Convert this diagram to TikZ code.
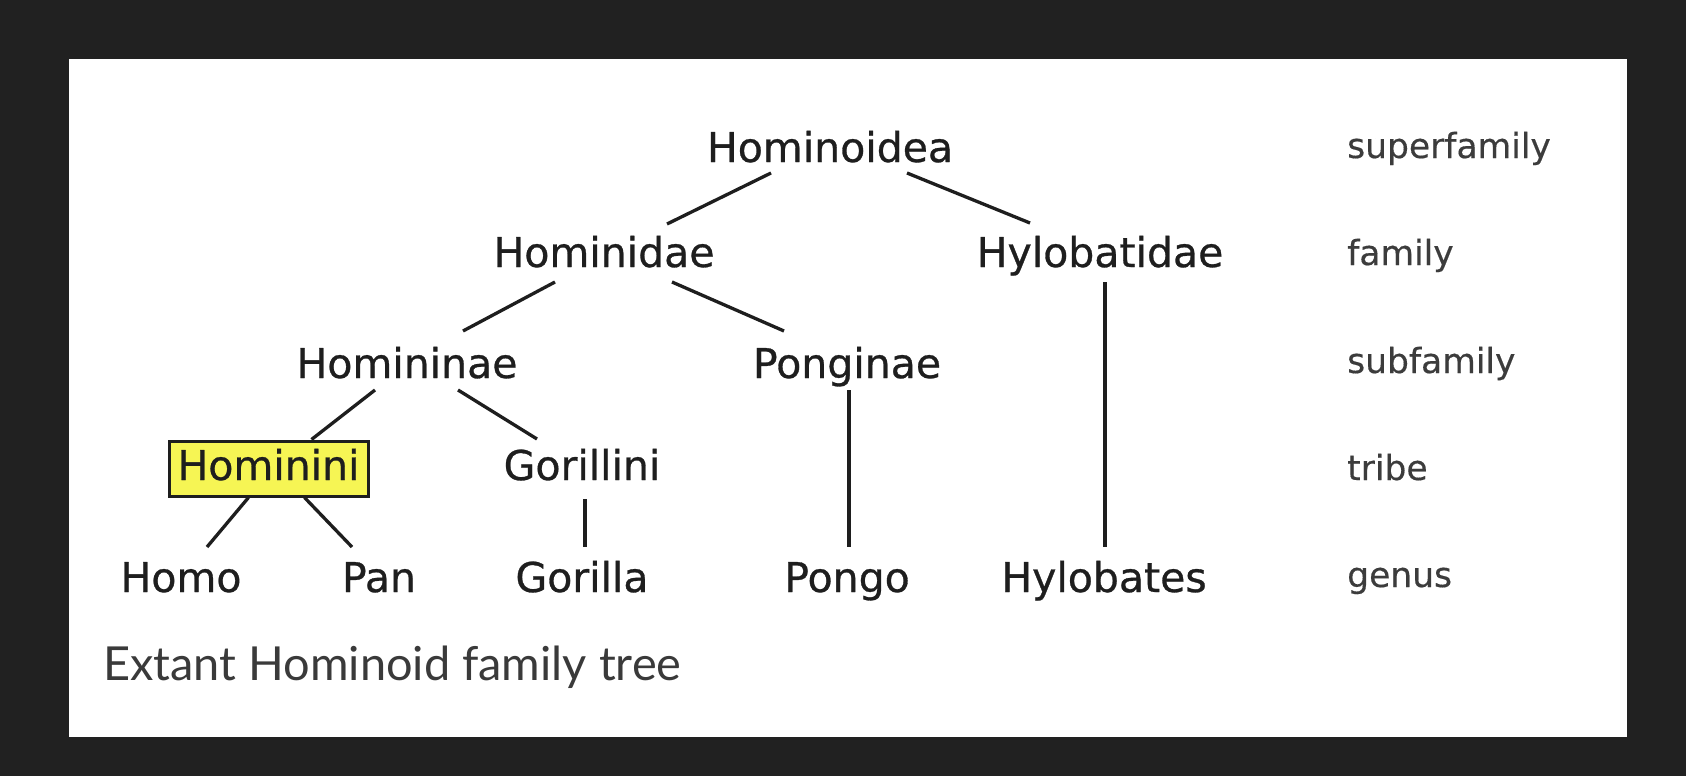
\documentclass[tikz,border=0pt]{standalone}
\usepackage{fontspec}
\usetikzlibrary{calc}
\newfontfamily\treefont[FakeBold=0.7]{DejaVu Sans}
\newfontfamily\rankfont[FakeBold=0.4]{DejaVu Sans}
\newfontfamily\capfont{Lato}
\definecolor{bgdark}{RGB}{33,33,33}
\definecolor{ink}{RGB}{30,30,30}
\definecolor{rankgray}{RGB}{60,60,60}
\definecolor{capgray}{RGB}{58,58,58}
\definecolor{hiyellow}{RGB}{246,245,84}
\tikzset{
  taxon/.style={anchor=base, inner sep=0pt, text=ink, font=\treefont\fontsize{41}{49}\selectfont},
  rank/.style={anchor=base west, inner sep=0pt, text=rankgray, font=\rankfont\fontsize{34.5}{41}\selectfont},
  hibox/.style={draw=ink, line width=3pt, fill=hiyellow, inner sep=0pt, minimum width=199pt, minimum height=55pt, text height=30pt, text depth=7pt, text=ink, font=\treefont\fontsize{41}{49}\selectfont},
  branch/.style={draw=ink, line width=3.3pt},
  captext/.style={anchor=base west, inner sep=0pt, text=capgray, font=\capfont\fontsize{46.9}{55}\selectfont}
}
\begin{document}
\begin{tikzpicture}[x=1pt,y=-1pt]
\fill[bgdark] (0,0) rectangle (1686,776);
\useasboundingbox (0,0) rectangle (1686,776);
\fill[white] (69,59) rectangle (1627,737);
% taxa
\node[taxon] (hominoidea) at (830,162) {Hominoidea};
\node[taxon] (hominidae) at (604,267) {Hominidae};
\node[taxon] (hylobatidae) at (1100,267) {Hylobatidae};
\node[taxon] (homininae) at (407,378) {Homininae};
\node[taxon] (ponginae) at (847,378) {Ponginae};
\node[hibox] (hominini) at (268.5,468.5) {Hominini};
\node[taxon] (gorillini) at (582,480) {Gorillini};
\node[taxon] (homo) at (181,592) {Homo};
\node[taxon] (pan) at (379,592) {Pan};
\node[taxon] (gorilla) at (582,592) {Gorilla};
\node[taxon] (pongo) at (847,592) {Pongo};
\node[taxon] (hylobates) at (1104,592) {Hylobates};
% ranks
\node[rank] (r1) at (1347,158) {superfamily};
\node[rank] (r2) at (1347,265) {family};
\node[rank] (r3) at (1347,373) {subfamily};
\node[rank] (r4) at (1347,480) {tribe};
\node[rank] (r5) at (1347,587) {genus};
% caption
\node[captext] (cap) at (103,680) {Extant Hominoid family tree};
% branches
\draw[branch] ($(hominoidea.base)+(-59,11)$) -- ($(hominidae.base)+(63,-43)$);
\draw[branch] ($(hominoidea.base)+(77,11)$) -- ($(hylobatidae.base)+(-70,-44)$);
\draw[branch] ($(hominidae.base)+(-49,15)$) -- ($(homininae.base)+(56,-47)$);
\draw[branch] ($(hominidae.base)+(68,15)$) -- ($(ponginae.base)+(-63,-47)$);
\draw[branch] ($(hylobatidae.base)+(5,15)$) -- ($(hylobates.base)+(1,-45)$);
\draw[branch] ($(homininae.base)+(-32,12)$) -- ($(hominini.north)+(43,0)$);
\draw[branch] ($(homininae.base)+(51,12)$) -- ($(gorillini.base)+(-45,-41)$);
\draw[branch] ($(ponginae.base)+(2,12)$) -- ($(pongo.base)+(2,-45)$);
\draw[branch] ($(hominini.south)+(-20,0)$) -- ($(homo.base)+(26,-45)$);
\draw[branch] ($(hominini.south)+(36,0)$) -- ($(pan.base)+(-27,-45)$);
\draw[branch] ($(gorillini.base)+(3,19)$) -- ($(gorilla.base)+(3,-45)$);
\end{tikzpicture}
\end{document}
